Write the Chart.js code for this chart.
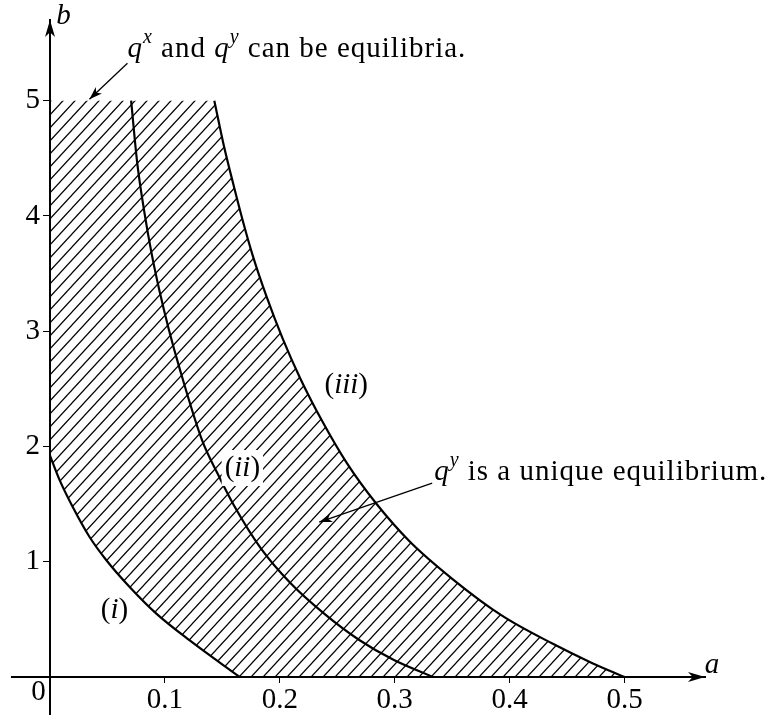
<!DOCTYPE html>
<html>
<head>
<meta charset="utf-8">
<script src="https://cdn.jsdelivr.net/npm/chart.js@4.4.1/dist/chart.umd.min.js"></script>
<style>
  html, body { margin: 0; padding: 0; background: #fff; }
  #wrap { width: 776px; height: 717px; }
</style>
</head>
<body>
<div id="wrap"><canvas id="regionChart"></canvas></div>
<script>
// boundary curves (a = x axis, b = y axis)
const curveIa = [0, 0.0083, 0.0198, 0.0343, 0.0489, 0.0691, 0.0923, 0.1213, 0.165];
const curveIb = [1.92, 1.71, 1.475, 1.217, 1.015, 0.783, 0.552, 0.319, 0];

const curveIIa = [0.0706, 0.0758, 0.082, 0.0887, 0.0955, 0.1033, 0.1127, 0.1323, 0.1457, 0.16, 0.1835, 0.2094, 0.2383, 0.2691, 0.2993, 0.3333];
const curveIIb = [5, 4.47, 4.04, 3.66, 3.34, 3.02, 2.68, 2.055, 1.767, 1.49, 1.116, 0.813, 0.552, 0.321, 0.147, 0];

const curveIIIa = [0.143, 0.1512, 0.159, 0.168, 0.1763, 0.188, 0.2024, 0.2178, 0.2372, 0.2585, 0.2837, 0.3126, 0.3503, 0.3937, 0.4372, 0.472, 0.5];
const curveIIIb = [5, 4.614, 4.296, 3.949, 3.66, 3.313, 2.938, 2.59, 2.214, 1.853, 1.507, 1.18, 0.85, 0.53, 0.29, 0.12, 0];

const bTop = 5;          // upper edge of the hatched region
const aEnd = 0.5;        // where the region meets the a axis

const xTicks = [0.1, 0.2, 0.3, 0.4, 0.5];
const xTickLabels = ['0.1', '0.2', '0.3', '0.4', '0.5'];
const yTicks = [1, 2, 3, 4, 5];
const yTickLabels = ['1', '2', '3', '4', '5'];

const xMin = 0, xMax = 0.57, yMin = 0, yMax = 5.7;
const xAxisStart = -0.034, yAxisStart = -0.33;

const SERIF = "'Liberation Serif', 'Times New Roman', 'DejaVu Serif', serif";
const FS = 29;

const toPoints = (xs, ys) => xs.map((v, i) => ({ x: v, y: ys[i] }));

// hatch pattern, lines going up to the right
function makeHatch() {
    const w = 12, h = 13;
    const c = document.createElement('canvas');
    c.width = w; c.height = h;
    const g = c.getContext('2d');
    g.strokeStyle = '#000';
    g.lineWidth = 1.2;
    for (let k = -1; k <= 1; k++) {
        g.beginPath();
        g.moveTo(-w + k * w, 2 * h);
        g.lineTo(2 * w + k * w, -h);
        g.stroke();
    }
    return g.createPattern(c, 'repeat');
}

const upperEdge = [{ x: 0, y: bTop }].concat(toPoints(curveIIIa, curveIIIb));
const lowerEdge = toPoints(curveIa, curveIb).concat([{ x: aEnd, y: 0 }]);

function drawArrowHead(ctx, x, y, angle, len, half) {
    ctx.save();
    ctx.translate(x, y);
    ctx.rotate(angle);
    ctx.beginPath();
    ctx.moveTo(0, 0);
    ctx.lineTo(-len, -half);
    ctx.lineTo(-len * 0.72, 0);
    ctx.lineTo(-len, half);
    ctx.closePath();
    ctx.fill();
    ctx.restore();
}

function partFont(p, size) {
    const s = p.sup ? Math.round(size * 0.7) : size;
    return (p.italic ? 'italic ' : '') + s + 'px ' + SERIF;
}

function richWidth(ctx, parts, size) {
    let w = 0;
    parts.forEach(p => { ctx.font = partFont(p, size); w += ctx.measureText(p.t).width; });
    return w;
}

function drawRich(ctx, parts, x, y, size) {
    let cx = x;
    parts.forEach(p => {
        ctx.font = partFont(p, size);
        ctx.fillText(p.t, cx, p.sup ? y - size * 0.48 : y);
        cx += ctx.measureText(p.t).width;
    });
}

function label(text) {
    return [{ t: '(' }, { t: text, italic: true }, { t: ')' }];
}

const annotations = {
    id: 'annotations',
    afterDatasetsDraw(chart) {
        const { ctx, scales: { x, y } } = chart;
        const px = v => x.getPixelForValue(v);
        const py = v => y.getPixelForValue(v);
        ctx.save();
        ctx.fillStyle = '#000';
        ctx.strokeStyle = '#000';

        // axis stubs past the origin and arrow heads
        ctx.lineWidth = 2;
        ctx.beginPath();
        ctx.moveTo(px(xAxisStart), py(0));
        ctx.lineTo(px(0), py(0));
        ctx.moveTo(px(0), py(yAxisStart));
        ctx.lineTo(px(0), py(0));
        ctx.stroke();
        drawArrowHead(ctx, px(xMax), py(0), 0, 17, 5);
        drawArrowHead(ctx, px(0), py(yMax), -Math.PI / 2, 17, 5);

        // curve labels, centred on their anchor
        ctx.textAlign = 'left';
        ctx.textBaseline = 'middle';
        const curveLabels = [
            ['i', 0.0561, 0.581, false],
            ['ii', 0.1674, 1.813, true],
            ['iii', 0.2578, 2.533, false]
        ];
        curveLabels.forEach(([t, a, b, clear]) => {
            const parts = label(t);
            const w = richWidth(ctx, parts, FS);
            if (clear) {
                ctx.fillStyle = '#fff';
                ctx.fillRect(px(a) - w / 2 - 3, py(b) - 18, w + 6, 36);
                ctx.fillStyle = '#000';
            }
            drawRich(ctx, parts, px(a) - w / 2, py(b), FS);
        });

        ctx.textAlign = 'center';
        ctx.font = 'italic ' + FS + 'px ' + SERIF;
        ctx.fillText('b', px(0.0117), py(5.73));
        ctx.fillText('a', px(0.576), py(0.104));
        ctx.font = FS + 'px ' + SERIF;
        ctx.fillText('0', px(-0.01), py(-0.135));

        // notes with arrows
        ctx.textAlign = 'left';
        ctx.textBaseline = 'alphabetic';
        ctx.letterSpacing = '1px';
        ctx.wordSpacing = '2px';
        drawRich(ctx, [
            { t: 'q', italic: true }, { t: 'x', italic: true, sup: true },
            { t: ' and ' },
            { t: 'q', italic: true }, { t: 'y', italic: true, sup: true },
            { t: ' can be equilibria.' }
        ], px(0.0674), py(5.377), FS);
        drawRich(ctx, [
            { t: 'q', italic: true }, { t: 'y', italic: true, sup: true },
            { t: ' is a unique equilibrium.' }
        ], px(0.3343), py(1.709), FS);
        ctx.letterSpacing = '0px';
        ctx.wordSpacing = '0px';

        ctx.lineWidth = 1.3;
        const arrows = [
            [0.0674, 5.325, 0.0343, 5.013],
            [0.3326, 1.683, 0.2343, 1.344]
        ];
        arrows.forEach(([a0, b0, a1, b1]) => {
            const x0 = px(a0), y0 = py(b0), x1 = px(a1), y1 = py(b1);
            ctx.beginPath();
            ctx.moveTo(x0, y0);
            ctx.lineTo(x1, y1);
            ctx.stroke();
            drawArrowHead(ctx, x1, y1, Math.atan2(y1 - y0, x1 - x0), 13, 4.5);
        });
        ctx.restore();
    }
};

Chart.defaults.color = '#000';
Chart.defaults.font.family = SERIF;
Chart.defaults.font.size = FS;

const curveStyle = {
    showLine: true,
    borderColor: '#000',
    borderWidth: 2.2,
    pointRadius: 0,
    cubicInterpolationMode: 'monotone',
    fill: false
};

new Chart(document.getElementById('regionChart'), {
    type: 'scatter',
    data: {
        datasets: [
            {
                label: 'hatch',
                data: upperEdge,
                showLine: true,
                borderWidth: 0,
                borderColor: 'rgba(0,0,0,0)',
                pointRadius: 0,
                backgroundColor: makeHatch(),
                fill: 1
            },
            {
                label: 'hatch base',
                data: lowerEdge,
                showLine: true,
                borderWidth: 0,
                borderColor: 'rgba(0,0,0,0)',
                pointRadius: 0,
                fill: false
            },
            { label: '(i)', data: toPoints(curveIa, curveIb), ...curveStyle },
            { label: '(ii)', data: toPoints(curveIIa, curveIIb), ...curveStyle },
            { label: '(iii)', data: toPoints(curveIIIa, curveIIIb), ...curveStyle }
        ]
    },
    options: {
        responsive: true,
        maintainAspectRatio: false,
        animation: false,
        devicePixelRatio: 1,
        events: [],
        layout: { padding: { left: 0, right: 71, top: 20, bottom: 0 } },
        plugins: { legend: { display: false }, tooltip: { enabled: false } },
        scales: {
            x: {
                type: 'linear',
                min: xMin, max: xMax,
                afterBuildTicks: s => { s.ticks = xTicks.map(v => ({ value: v })); },
                afterFit: s => { s.height = 40; s.paddingLeft = 0; s.paddingRight = 0; },
                ticks: { callback: (v, i) => xTickLabels[i], padding: 0, maxRotation: 0 },
                grid: { drawOnChartArea: false, drawTicks: true, tickLength: 6, color: '#000', lineWidth: 1 },
                border: { color: '#000', width: 2, z: 1 }
            },
            y: {
                type: 'linear',
                min: yMin, max: yMax,
                afterBuildTicks: s => { s.ticks = yTicks.map(v => ({ value: v })); },
                afterFit: s => { s.width = 50; s.paddingTop = 0; s.paddingBottom = 0; },
                ticks: { callback: (v, i) => yTickLabels[i], padding: 3 },
                grid: { drawOnChartArea: false, drawTicks: true, tickLength: 7, color: '#000', lineWidth: 1 },
                border: { color: '#000', width: 2, z: 1 }
            }
        }
    },
    plugins: [annotations]
});
</script>
</body>
</html>
